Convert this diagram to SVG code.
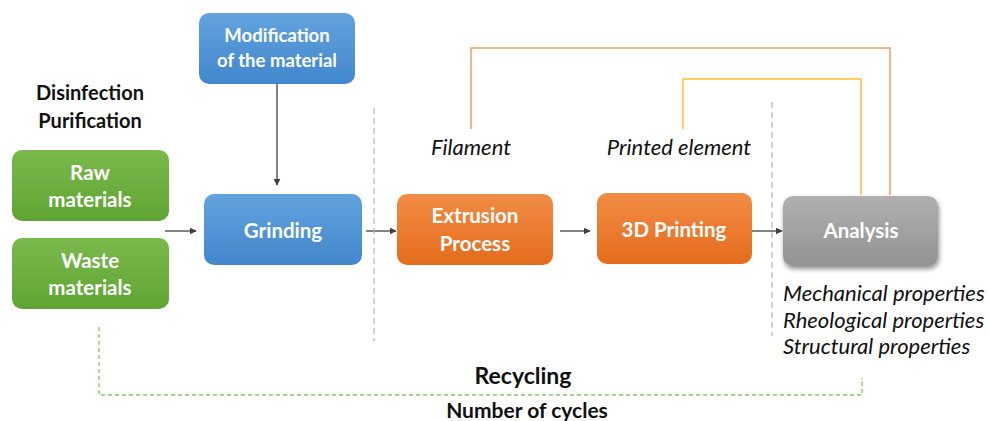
<svg xmlns="http://www.w3.org/2000/svg" width="990" height="421" viewBox="0 0 990 421">
<style>
text{font-family:Lato,"Open Sans","Liberation Sans",sans-serif}
.bt{font-weight:bold;font-size:20.5px;fill:#fff;text-anchor:middle}
.bt.sm{font-size:18.5px}
.lb{font-weight:bold;fill:#111;text-anchor:middle}
.it{font-style:italic;font-size:22px;fill:#111}
.ar{stroke:#404040;stroke-width:1.3;fill:none;marker-end:url(#ah)}
.sep{stroke:#b4b4b4;stroke-width:1.2;stroke-dasharray:6 4;fill:none}
</style>
<defs>
<marker id="ah" viewBox="0 0 10 10" refX="9" refY="5" markerWidth="7" markerHeight="7" markerUnits="userSpaceOnUse" orient="auto"><path d="M0,0 L10,5 L0,10 z" fill="#404040"/></marker>
<linearGradient id="gG" x1="0" y1="0" x2="0" y2="1"><stop offset="0" stop-color="#7ab94c"/><stop offset="1" stop-color="#5fa533"/></linearGradient>
<linearGradient id="gB" x1="0" y1="0" x2="0" y2="1"><stop offset="0" stop-color="#62a3de"/><stop offset="1" stop-color="#4287cc"/></linearGradient>
<linearGradient id="gO" x1="0" y1="0" x2="0" y2="1"><stop offset="0" stop-color="#f28c45"/><stop offset="1" stop-color="#e46c1c"/></linearGradient>
<linearGradient id="gY" x1="0" y1="0" x2="0" y2="1"><stop offset="0" stop-color="#b0b0b0"/><stop offset="1" stop-color="#939393"/></linearGradient>
<filter id="sh" x="-10%" y="-10%" width="125%" height="130%"><feGaussianBlur in="SourceAlpha" stdDeviation="2.5"/><feOffset dx="1" dy="3"/><feComponentTransfer><feFuncA type="linear" slope="0.45"/></feComponentTransfer><feMerge><feMergeNode/><feMergeNode in="SourceGraphic"/></feMerge></filter>
</defs>
<rect width="990" height="421" fill="#fff"/>

<g id="connectors">
<path class="ar" d="M277,78 V185"/>
<path class="ar" d="M165,231 H196"/>
<path class="ar" d="M366,231 H396"/>
<path class="ar" d="M560,231 H590"/>
<path class="ar" d="M752,231 H782"/>
<path d="M471,129 V48 H890 V195" stroke="#f19a62" stroke-width="1.5" fill="none"/>
<path d="M683,129 V79 H861 V195" stroke="#ffc12e" stroke-width="1.5" fill="none"/>
<path class="sep" d="M374,108 V341"/>
<path class="sep" d="M772,102 V336"/>
<path d="M99,327 V395 H862 V378" stroke="#86c66a" stroke-width="1.3" stroke-dasharray="4 3" fill="none"/>
</g>

<g id="modification">
<rect x="199" y="13" width="156" height="71" rx="10" fill="url(#gB)"/>
<text class="bt sm" x="277" y="42">Modification</text>
<text class="bt sm" x="277" y="67">of the material</text>
</g>
<g id="disinfection">
<text class="lb" x="90" y="100" font-size="20">Disinfection</text>
<text class="lb" x="90" y="128" font-size="20">Purification</text>
</g>
<g id="raw">
<rect x="12" y="150" width="157" height="71" rx="10" fill="url(#gG)"/>
<text class="bt" x="90" y="180">Raw</text>
<text class="bt" x="90" y="207">materials</text>
</g>
<g id="waste">
<rect x="12" y="238" width="157" height="71" rx="10" fill="url(#gG)"/>
<text class="bt" x="90" y="268">Waste</text>
<text class="bt" x="90" y="295">materials</text>
</g>
<g id="grinding">
<rect x="204" y="194" width="158" height="71" rx="10" fill="url(#gB)"/>
<text class="bt" x="283" y="238">Grinding</text>
</g>
<g id="extrusion">
<rect x="397" y="194" width="156" height="71" rx="10" fill="url(#gO)"/>
<text class="bt" x="475" y="223">Extrusion</text>
<text class="bt" x="475" y="251">Process</text>
</g>
<g id="printing">
<rect x="597" y="193" width="155" height="71" rx="10" fill="url(#gO)"/>
<text class="bt" x="674" y="237">3D Printing</text>
</g>
<g id="analysis">
<rect x="783" y="196" width="155" height="70" rx="10" fill="url(#gY)" filter="url(#sh)"/>
<text class="bt" x="861" y="238">Analysis</text>
</g>
<g id="labels">
<text class="it" x="471" y="155" text-anchor="middle">Filament</text>
<text class="it" x="679" y="155" text-anchor="middle">Printed element</text>
<text class="it" x="783" y="301">Mechanical properties</text>
<text class="it" x="783" y="328">Rheological properties</text>
<text class="it" x="783" y="354">Structural properties</text>
<text class="lb" x="523" y="384" font-size="23">Recycling</text>
<text class="lb" x="527" y="418" font-size="21">Number of cycles</text>
</g>
</svg>
